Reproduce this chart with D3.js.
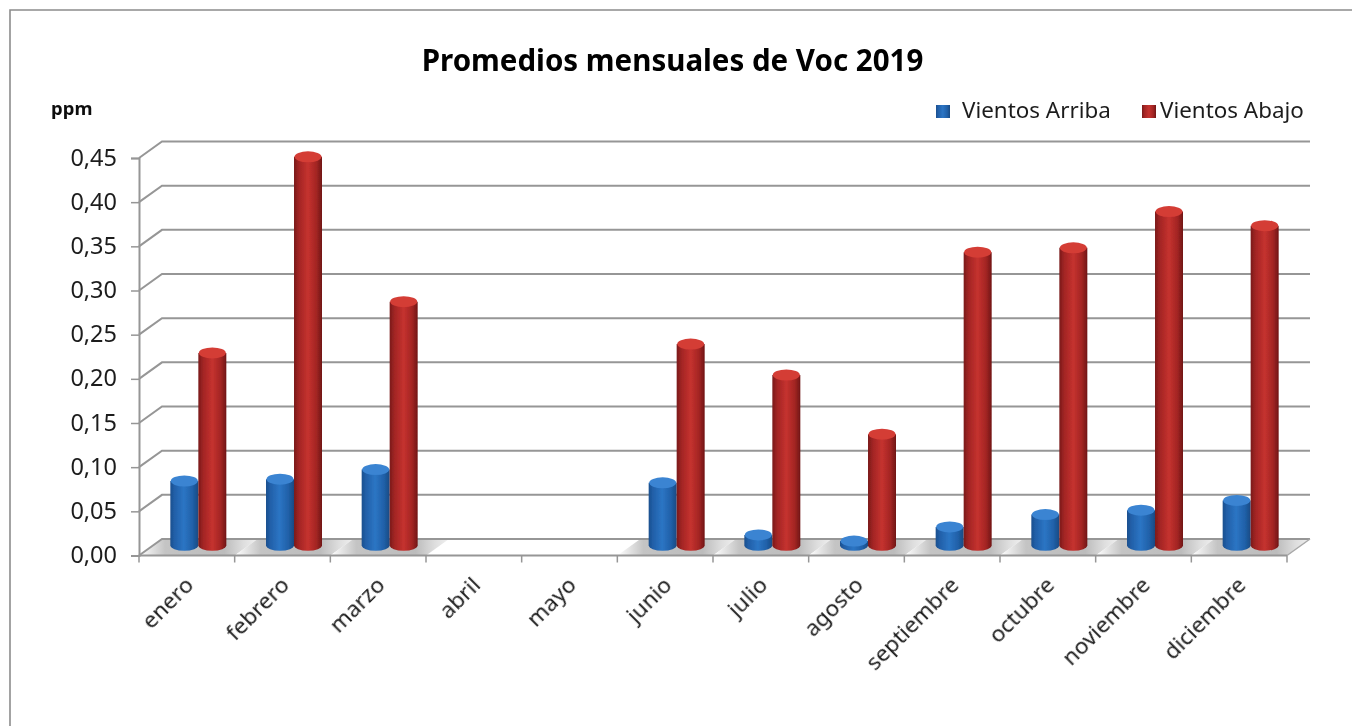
<!DOCTYPE html>
<html>
<head>
<meta charset="utf-8">
<script src="https://cdn.jsdelivr.net/npm/d3@7"></script>
<style>
body{margin:0;background:#fff;}
text{fill:#1a1a1a;}
</style>
</head>
<body>
<script>
const months=['enero','febrero','marzo','abril','mayo','junio','julio','agosto','septiembre','octubre','noviembre','diciembre'];
const arriba=[0.075,0.077,0.088,null,null,0.073,0.014,0.007,0.023,0.037,0.042,0.053];
const abajo=[0.22,0.442,0.278,null,null,0.23,0.195,0.128,0.334,0.339,0.38,0.364];
const yTicks=[0,0.05,0.10,0.15,0.20,0.25,0.30,0.35,0.40,0.45];
const seriesNames=['Vientos Arriba','Vientos Abajo'];

const width=1352, height=726;
const font="'Noto Sans', 'DejaVu Sans', sans-serif";
const depthX=23, depthY=-16.5;

const svg=d3.select('body').append('svg').attr('width',width).attr('height',height).style('display','block');
const defs=svg.append('defs');

function hGrad(id,stops){
    const g=defs.append('linearGradient').attr('id',id).attr('x1',0).attr('x2',1).attr('y1',0).attr('y2',0);
    stops.forEach(s=>g.append('stop').attr('offset',s[0]).attr('stop-color',s[1]));
}
hGrad('blueBody',[[0,'#1b4f8e'],[0.15,'#215fa8'],[0.48,'#2c75c4'],[0.8,'#2060a8'],[1,'#194a82']]);
hGrad('redBody',[[0,'#7a1a1a'],[0.18,'#a32524'],[0.5,'#c5322f'],[0.8,'#a32523'],[1,'#701616']]);
hGrad('floorCell',[[0,'#ffffff'],[0.22,'#c4c4c4'],[0.72,'#bcbcbc'],[0.88,'#dedede'],[1,'#f0f0f0']]);
defs.append('filter').attr('id','soft').append('feGaussianBlur').attr('stdDeviation',0.6);
defs.append('filter').attr('id','softText').append('feGaussianBlur').attr('stdDeviation',0.3);

// outer frame, only top and left are in the picture
svg.append('path').attr('d','M10,726V10H1352').attr('fill','none').attr('stroke','#8c8c8c').attr('stroke-width',1.6);

const x=d3.scaleBand().domain(months).range([139,1287]);
const y=d3.scaleLinear().domain([0,0.45]).range([555.5,158]);

const chart=svg.append('g').attr('filter','url(#soft)');

// floor
chart.append('path')
    .attr('d',`M139,${y(0)}L${139+depthX},${y(0)+depthY}H${1287+depthX}L1287,${y(0)}Z`)
    .attr('fill','#fff');
chart.selectAll('.cell').data(months.filter((m,i)=>abajo[i]!==null)).enter().append('path')
    .attr('class','cell')
    .attr('d',m=>`M${x(m)},${y(0)}l${depthX},${depthY}h${x.step()}l${-depthX},${-depthY}Z`)
    .attr('fill','url(#floorCell)');

// back wall lines
chart.selectAll('.grid').data(yTicks).enter().append('path')
    .attr('class','grid')
    .attr('d',d=>`M139,${y(d)}l${depthX},${depthY}H${1287+depthX}`)
    .attr('fill','none').attr('stroke','#969696').attr('stroke-width',2);
chart.append('path')
    .attr('d',`M1287,${y(0)}l${depthX},${depthY}`)
    .attr('stroke','#a8a8a8').attr('stroke-width',1.5);
chart.append('line').attr('x1',139).attr('x2',1287).attr('y1',y(0)).attr('y2',y(0))
    .attr('stroke','#969696').attr('stroke-width',2);

// y axis
const yAxis=d3.axisLeft(y).tickValues(yTicks).tickSize(8).tickPadding(14)
    .tickFormat(d=>d3.format('.2f')(d).replace('.',','));
const yG=svg.append('g').attr('transform','translate(139,0)').call(yAxis);
yG.select('.domain').attr('stroke','#969696').attr('stroke-width',2);
yG.selectAll('.tick line').attr('stroke','#969696').attr('stroke-width',1.5);
yG.selectAll('.tick text').attr('font-family',font).attr('font-size',23.5).attr('dy','0.3em').style('fill','#1c1c1c').attr('filter','url(#softText)');

// x axis
const xAxis=d3.axisBottom(x).tickSize(0).tickPadding(0);
const xG=svg.append('g').attr('transform',`translate(0,${y(0)})`).call(xAxis);
xG.select('.domain').remove();
xG.selectAll('.tick text')
    .attr('font-family',font).attr('font-size',22.5)
    .attr('text-anchor','end')
    .attr('dy',0).attr('y',0)
    .attr('transform','translate(8,31) rotate(-45)')
    .style('fill','#1c1c1c').attr('filter','url(#softText)');
chart.selectAll('.xtick').data(d3.range(months.length+1)).enter().append('line')
    .attr('class','xtick')
    .attr('x1',i=>139+i*x.step()).attr('x2',i=>139+i*x.step())
    .attr('y1',y(0)).attr('y2',y(0)+7)
    .attr('stroke','#969696').attr('stroke-width',1.5);

// cylinders, they stand half way into the floor depth
const barW=28, ry=5.5, baseLift=2;
function drawBars(values,side,body,top){
    const rows=months.map((m,i)=>({m:m,v:values[i]})).filter(d=>d.v!==null);
    const g=chart.append('g').selectAll('g').data(rows).enter().append('g')
        .attr('transform',d=>`translate(${x(d.m)+x.bandwidth()/2+depthX/2+side*barW/2},${depthY/2})`);
    g.append('path')
        .attr('d',d=>`M${-barW/2},${y(d.v)}V${y(0)-baseLift}A${barW/2},${ry} 0 0 0 ${barW/2},${y(0)-baseLift}V${y(d.v)}Z`)
        .attr('fill',`url(#${body})`);
    g.append('ellipse')
        .attr('cx',0).attr('cy',d=>y(d.v))
        .attr('rx',barW/2-0.5).attr('ry',ry)
        .attr('fill',top);
}
drawBars(arriba,-1,'blueBody','#3a84d2');
drawBars(abajo,1,'redBody','#d43c36');

// title and labels
svg.append('text').text('Promedios mensuales de Voc 2019')
    .attr('x',672.5).attr('y',71).attr('text-anchor','middle')
    .attr('font-family',font).attr('font-weight','bold').attr('font-size',29.5)
    .style('fill','#000').attr('filter','url(#softText)');
svg.append('text').text('ppm')
    .attr('x',51).attr('y',115)
    .attr('font-family',font).attr('font-weight','bold').attr('font-size',18.5)
    .style('fill','#111').attr('filter','url(#softText)');

// legend
const legend=[{x:936,tx:962,fill:'url(#blueBody)'},{x:1142,tx:1160,fill:'url(#redBody)'}];
legend.forEach((l,i)=>{
    svg.append('rect').attr('x',l.x).attr('y',105).attr('width',14).attr('height',13).attr('fill',l.fill);
    svg.append('text').text(seriesNames[i]).attr('x',l.tx).attr('y',118)
        .attr('font-family',font).attr('font-size',22.4).style('fill','#1c1c1c').attr('filter','url(#softText)');
});
</script>
</body>
</html>
